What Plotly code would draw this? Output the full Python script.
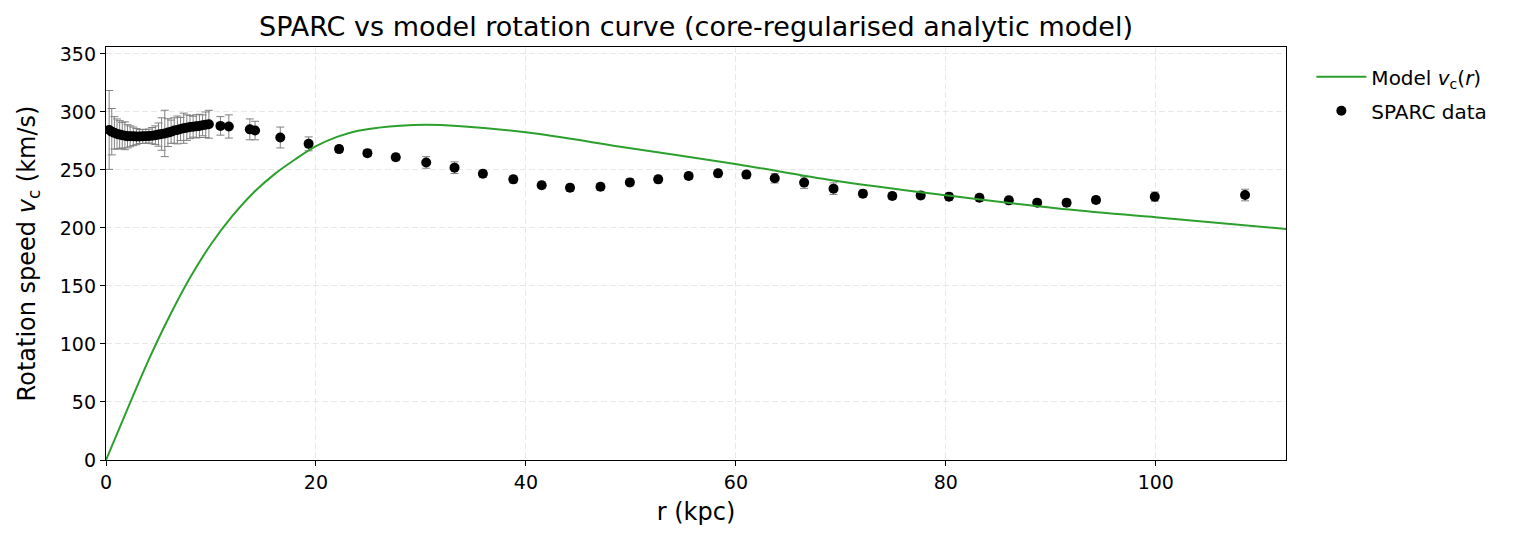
import plotly.graph_objects as go

# ---- SPARC data ----
r_data = [0.3, 0.55, 0.8, 1.05, 1.3, 1.55, 1.8, 2.05, 2.3, 2.6, 2.9, 3.2, 3.5, 3.8,
          4.1, 4.4, 4.7, 5.0, 5.3, 5.6, 5.9, 6.2, 6.5, 6.8, 7.1, 7.4, 7.7, 8.0,
          8.3, 8.6, 8.9, 9.2, 9.5, 9.8, 10.9, 11.7, 13.7, 14.2,
          16.6, 19.3, 22.2, 24.9, 27.6, 30.5, 33.2, 35.9, 38.8, 41.5, 44.2, 47.1,
          49.9, 52.6, 55.5, 58.3, 61.0, 63.7, 66.5, 69.3, 72.1, 74.9, 77.6, 80.3,
          83.2, 86.0, 88.7, 91.5, 94.3, 99.9, 108.5]
v_data = [284.5, 283.0, 282.0, 281.0, 280.5, 280.0, 279.5, 279.0, 279.0, 279.0, 278.8,
          278.8, 279.0, 279.0, 279.3, 279.6, 280.0, 280.5, 281.0, 281.5, 282.2, 283.0,
          284.0, 284.5, 285.3, 286.0, 286.5, 287.0, 287.3, 287.6, 288.0, 288.5, 289.0,
          289.4, 288.0, 287.5, 285.0, 284.0,
          278.0, 272.5, 268.0, 264.5, 261.0, 256.5, 252.0, 246.8, 241.9, 236.9, 234.7,
          235.5, 239.3, 241.9, 244.8, 247.1, 246.0, 242.8, 239.1, 233.9, 229.6, 227.6,
          228.1, 227.0, 226.1, 223.8, 221.8, 221.8, 224.1, 227.0, 228.4]
v_err = [34, 20, 14, 13, 12, 11, 12, 10, 9, 8, 7, 6, 6, 6, 6, 7, 8, 10, 14, 20,
         12, 10, 11, 12, 10, 13, 11, 10, 9, 10, 10, 9, 11, 12, 8, 10, 9, 8,
         9, 6, 3, 3, 3, 5, 5, 3, 3, 3, 3, 3, 3, 3, 3, 3, 3, 4, 5, 5, 3, 3, 3,
         3, 3, 3, 3, 3, 3, 4, 5]

# ---- Model curve samples ----
r_model = [0, 2, 4, 6, 8, 10, 12, 14, 16, 18, 20, 22, 24, 26, 28, 30.5,
           33.5, 40.0, 49.8, 60.1, 69.3, 80.2, 90.5, 100.2, 112.5]
v_model = [0, 43, 85, 123, 157, 186, 210, 230, 246, 259, 270.5, 278.5, 283.8, 286.5,
           288.2, 289, 288, 282.5, 269, 255, 241, 228, 217, 209, 199]

FONT = "DejaVu Sans"

fig = go.Figure()
fig.add_trace(go.Scatter(
    x=r_data, y=v_data, mode="markers", name="SPARC data",
    marker=dict(color="black", size=10),
    error_y=dict(type="data", array=v_err, visible=True, color="#808080",
                 thickness=1, width=4),
    legendrank=2, legendgroup="b",
))
fig.add_trace(go.Scatter(
    x=r_model, y=v_model, mode="lines", name="Model <i>v</i><sub>c</sub>(<i>r</i>)",
    line=dict(color="#2ca02c", width=2, shape="spline", smoothing=1.0),
    legendrank=1, legendgroup="a",
))

axis_common = dict(
    showline=True, linecolor="black", linewidth=1.3, mirror=True,
    ticks="outside", ticklen=5, tickcolor="black", tickwidth=1.3,
    showgrid=True, gridcolor="#e8e8e8", griddash="6px,3px", gridwidth=1,
    zeroline=False, tickfont=dict(family=FONT, size=19, color="black"),
)

fig.update_layout(
    width=1509, height=534,
    margin=dict(l=98, r=231, t=39, b=82),
    paper_bgcolor="white", plot_bgcolor="white",
    font=dict(family=FONT, color="black"),
    title=dict(text="SPARC vs model rotation curve (core-regularised analytic model)",
               x=0.5, xref="paper", y=0.966, yref="container", yanchor="middle",
               font=dict(family=FONT, size=27, color="black")),
    xaxis=dict(range=[0, 112.4], dtick=20,
               title=dict(text="r (kpc)", font=dict(family=FONT, size=24), standoff=11),
               **axis_common),
    yaxis=dict(range=[0, 356], dtick=50,
               title=dict(text="Rotation speed <i>v</i><sub>c</sub> (km/s)",
                          font=dict(family=FONT, size=24), standoff=17),
               **axis_common),
    legend=dict(x=1.0215, y=0.975, xanchor="left", yanchor="top",
                font=dict(family=FONT, size=20, color="black"),
                bgcolor="rgba(0,0,0,0)", tracegroupgap=5, itemwidth=50),
    showlegend=True,
)

fig.write_html("out.html")
